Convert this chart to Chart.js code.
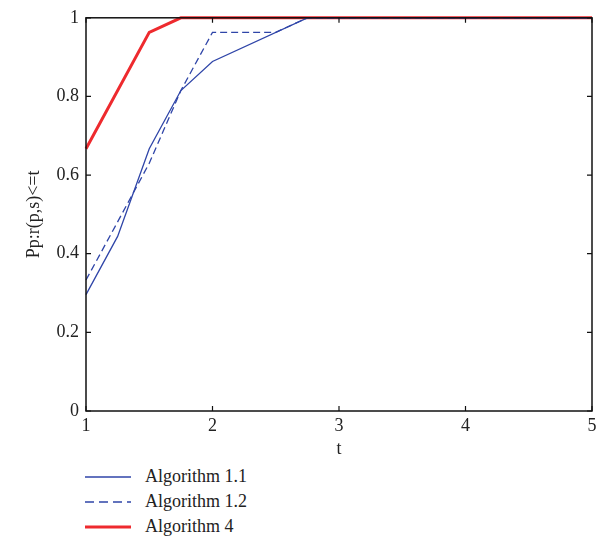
<!DOCTYPE html>
<html>
<head>
<meta charset="utf-8">
<script src="https://cdn.jsdelivr.net/npm/chart.js@4"></script>
<style>
  body { margin: 0; background: #fff; }
  #wrap { position: relative; width: 605px; height: 542px; }
  #box { position: absolute; left: 0; top: 0; width: 605px; height: 460px; }
  #legend { position: absolute; left: 85px; top: 464px; font-family: "Liberation Serif", "DejaVu Serif", serif; font-size: 18px; color: #222; }
  .item { display: flex; align-items: center; height: 25px; }
  .item svg { margin-right: 14px; }
</style>
</head>
<body>
<div id="wrap">
  <div id="box"><canvas id="chart"></canvas></div>
  <div id="legend"></div>
</div>
<script>
// datos
const tAlg11 = [1, 1.25, 1.5, 1.75, 2, 2.75, 5];
const pAlg11 = [0.296, 0.444, 0.667, 0.815, 0.889, 1, 1];

const tAlg12 = [1, 1.25, 1.5, 1.75, 2, 2.5, 2.75, 5];
const pAlg12 = [0.333, 0.481, 0.630, 0.815, 0.963, 0.963, 1, 1];

const tAlg4 = [1, 1.5, 1.75, 5];
const pAlg4 = [0.667, 0.963, 1, 1];

const xTicks = [1, 2, 3, 4, 5];
const yTicks = [0, 0.2, 0.4, 0.6, 0.8, 1];

const seriesNames = ['Algorithm 1.1', 'Algorithm 1.2', 'Algorithm 4'];

const FONT = '"Liberation Serif", "DejaVu Serif", serif';
const BLUE = '#2f45a8';
const RED = '#ee2a2e';

function puntos(xs, ys) {
    return xs.map((x, i) => ({ x: x, y: ys[i] }));
}

// caja negra + ticks hacia adentro (estilo matlab)
const cajaPlugin = {
    id: 'caja',
    afterDraw(chart) {
        const { ctx, chartArea: a, scales } = chart;
        ctx.save();
        ctx.strokeStyle = '#111';
        ctx.lineWidth = 1.5;
        ctx.strokeRect(a.left, a.top, a.right - a.left, a.bottom - a.top);
        ctx.lineWidth = 1.2;
        const len = 5;
        ctx.beginPath();
        xTicks.forEach(v => {
            const px = scales.x.getPixelForValue(v);
            ctx.moveTo(px, a.bottom); ctx.lineTo(px, a.bottom - len);
            ctx.moveTo(px, a.top); ctx.lineTo(px, a.top + len);
        });
        yTicks.forEach(v => {
            const py = scales.y.getPixelForValue(v);
            ctx.moveTo(a.left, py); ctx.lineTo(a.left + len, py);
            ctx.moveTo(a.right, py); ctx.lineTo(a.right - len, py);
        });
        ctx.stroke();
        ctx.restore();
    }
};

const ctx = document.getElementById('chart');

new Chart(ctx, {
    type: 'line',
    data: {
        datasets: [
            {
                label: seriesNames[0],
                data: puntos(tAlg11, pAlg11),
                borderColor: BLUE,
                borderWidth: 1.3,
                pointRadius: 0,
                tension: 0,
                clip: false
            },
            {
                label: seriesNames[1],
                data: puntos(tAlg12, pAlg12),
                borderColor: BLUE,
                borderWidth: 1.3,
                borderDash: [7, 4],
                pointRadius: 0,
                tension: 0,
                clip: false
            },
            {
                label: seriesNames[2],
                data: puntos(tAlg4, pAlg4),
                borderColor: RED,
                borderWidth: 3,
                pointRadius: 0,
                tension: 0,
                clip: false
            }
        ]
    },
    options: {
        responsive: true,
        maintainAspectRatio: false,
        animation: false,
        layout: { padding: { left: 0, top: 14, right: 13, bottom: 0 } },
        plugins: { legend: { display: false }, tooltip: { enabled: false } },
        scales: {
            x: {
                type: 'linear',
                min: 1, max: 5,
                afterBuildTicks: s => { s.ticks = xTicks.map(v => ({ value: v })); },
                afterFit: s => { s.height = 49; },
                grid: { display: false, drawTicks: false },
                border: { display: false },
                ticks: { color: '#222', font: { family: FONT, size: 18 }, padding: 4, callback: v => String(v) },
                title: { display: true, text: 't', color: '#222', font: { family: FONT, size: 18 }, padding: { top: 0, bottom: 0 } }
            },
            y: {
                min: 0, max: 1,
                afterBuildTicks: s => { s.ticks = yTicks.map(v => ({ value: v })); },
                afterFit: s => { s.width = 86; },
                grid: { display: false, drawTicks: false },
                border: { display: false },
                ticks: { color: '#222', font: { family: FONT, size: 18 }, padding: 7, callback: v => String(v) },
                title: { display: true, text: 'Pp:r(p,s)<=t', color: '#222', font: { family: FONT, size: 18 }, padding: { top: 23, bottom: 0 } }
            }
        }
    },
    plugins: [cajaPlugin]
});

// leyenda html con muestras en svg
const leyenda = document.getElementById('legend');
const muestras = [
    { color: BLUE, ancho: 1.3, dash: '' },
    { color: BLUE, ancho: 1.3, dash: '9 5' },
    { color: RED, ancho: 3, dash: '' }
];
seriesNames.forEach((nombre, i) => {
    const m = muestras[i];
    const fila = document.createElement('div');
    fila.className = 'item';
    fila.innerHTML = `<svg width="46" height="8"><line x1="0" y1="4" x2="46" y2="4" stroke="${m.color}" stroke-width="${m.ancho}" stroke-dasharray="${m.dash}"/></svg><span>${nombre}</span>`;
    leyenda.appendChild(fila);
});
</script>
</body>
</html>
